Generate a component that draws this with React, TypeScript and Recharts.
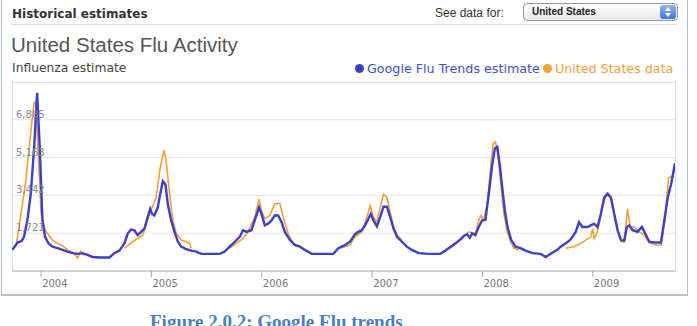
import { CartesianGrid, Line, LineChart, XAxis, YAxis } from 'recharts'

// weeks as decimal years
const googleWeeks = [
  2003.739, 2003.785, 2003.825, 2003.845, 2003.875, 2003.906, 2003.936, 2003.964, 2003.988, 2004.012,
  2004.036, 2004.066, 2004.103, 2004.148, 2004.194, 2004.239, 2004.285, 2004.33, 2004.375, 2004.421,
  2004.466, 2004.527, 2004.618, 2004.664, 2004.709, 2004.755, 2004.785, 2004.815, 2004.845, 2004.875,
  2004.906, 2004.936, 2004.966, 2004.988, 2005.006, 2005.027, 2005.057, 2005.079, 2005.103, 2005.127,
  2005.148, 2005.179, 2005.209, 2005.239, 2005.27, 2005.315, 2005.361, 2005.406, 2005.452, 2005.527,
  2005.618, 2005.664, 2005.709, 2005.755, 2005.8, 2005.83, 2005.861, 2005.906, 2005.936, 2005.975,
  2005.997, 2006.027, 2006.057, 2006.088, 2006.118, 2006.148, 2006.179, 2006.209, 2006.255, 2006.3,
  2006.345, 2006.391, 2006.452, 2006.557, 2006.648, 2006.694, 2006.755, 2006.8, 2006.845, 2006.875,
  2006.906, 2006.936, 2006.966, 2006.988, 2007.012, 2007.043, 2007.073, 2007.103, 2007.134, 2007.164,
  2007.194, 2007.225, 2007.27, 2007.315, 2007.361, 2007.421, 2007.512, 2007.618, 2007.664, 2007.725,
  2007.755, 2007.8, 2007.83, 2007.861, 2007.885, 2007.906, 2007.936, 2007.966, 2007.997, 2008.027,
  2008.057, 2008.088, 2008.112, 2008.134, 2008.157, 2008.179, 2008.203, 2008.23, 2008.261, 2008.3,
  2008.345, 2008.391, 2008.452, 2008.527, 2008.573, 2008.618, 2008.679, 2008.709, 2008.755, 2008.8,
  2008.845, 2008.875, 2008.906, 2008.952, 2008.982, 2009.012, 2009.043, 2009.073, 2009.103, 2009.134,
  2009.164, 2009.194, 2009.225, 2009.255, 2009.285, 2009.309, 2009.33, 2009.361, 2009.406, 2009.445,
  2009.482, 2009.512, 2009.557, 2009.618, 2009.648, 2009.679, 2009.709, 2009.745,
]
const googleEstimate = [
  961, 1287, 1377, 1556, 2302, 3495, 5580, 8113, 5580, 2302,
  1556, 1260, 1109, 1037, 961, 885, 813, 782, 813, 738,
  635, 617, 617, 813, 930, 1260, 1707, 1886, 1850, 1632,
  1780, 1931, 2450, 2825, 2602, 2527, 2897, 3495, 4090, 3940,
  3049, 2302, 1780, 1332, 1109, 992, 930, 885, 782, 782,
  782, 885, 1109, 1332, 1556, 1855, 1780, 1855, 2302, 2897,
  2602, 2079, 2153, 2302, 2527, 2527, 2228, 1780, 1408, 1185,
  1109, 961, 782, 782, 782, 1037, 1185, 1332, 1676, 1780,
  1855, 2079, 2377, 2602, 2302, 2034, 2452, 2928, 2928, 2452,
  1931, 1556, 1332, 1109, 961, 813, 782, 782, 930, 1147,
  1260, 1438, 1600, 1676, 1510, 1707, 1632, 2004, 2302, 2330,
  3495, 4836, 5580, 5655, 4836, 3793, 2748, 1931, 1408, 1109,
  1037, 930, 813, 782, 635, 782, 961, 1109, 1260, 1438,
  1780, 2228, 2004, 2004, 2079, 2153, 2004, 2602, 3346, 3524,
  3346, 2602, 1855, 1408, 1377, 2004, 2079, 1855, 1780, 2004,
  1632, 1332, 1300, 1300, 2302, 3346, 3942, 4908,
]

// CDC ILI data, null = no report (summer gap)
const cdcWeeks = [
  2003.77, 2003.8, 2003.861, 2003.906, 2003.936, 2003.95, 2003.975, 2004.0, 2004.036, 2004.103,
  2004.148, 2004.194, 2004.239, 2004.285, 2004.33, 2004.36, 2004.39, 2004.55,
  2004.755, 2004.83, 2004.921, 2004.982, 2005.042, 2005.079, 2005.112, 2005.134, 2005.164, 2005.194,
  2005.225, 2005.27, 2005.315, 2005.345, 2005.361, 2005.55,
  2005.709, 2005.77, 2005.83, 2005.875, 2005.936, 2005.975, 2005.997, 2006.027, 2006.073, 2006.118,
  2006.164, 2006.194, 2006.239, 2006.285, 2006.315, 2006.55,
  2006.709, 2006.8, 2006.845, 2006.906, 2006.952, 2006.982, 2007.012, 2007.043, 2007.073, 2007.103,
  2007.134, 2007.164, 2007.194, 2007.239, 2007.27, 2007.55,
  2007.709, 2007.8, 2007.875, 2007.936, 2007.966, 2007.988, 2008.012, 2008.043, 2008.073, 2008.097,
  2008.118, 2008.139, 2008.164, 2008.194, 2008.225, 2008.255, 2008.285, 2008.33, 2008.55,
  2008.755, 2008.83, 2008.891, 2008.936, 2008.982, 2008.997, 2009.012, 2009.036, 2009.057, 2009.088,
  2009.118, 2009.145, 2009.173, 2009.2, 2009.227, 2009.255, 2009.285, 2009.315, 2009.339, 2009.376,
  2009.421, 2009.467, 2009.512, 2009.573, 2009.618, 2009.655, 2009.685, 2009.718, 2009.745,
]
const cdcValues = [
  1109, 2003, 4090, 6325, 7666, 7700, 5200, 2600, 1855, 1408,
  1260, 1150, 960, 850, 603, 900, 700, null,
  1037, 1332, 1632, 2602, 3346, 4685, 5507, 4984, 3495, 2302,
  1707, 1408, 1332, 1260, 1037, null,
  1037, 1260, 1482, 1780, 2452, 3272, 2750, 2377, 2527, 3077,
  3077, 2452, 1707, 1260, 1109, null,
  1037, 1185, 1556, 1780, 2452, 2973, 2452, 2228, 2897, 3495,
  3346, 2676, 2004, 1556, 1408, null,
  1037, 1408, 1780, 1707, 2302, 2527, 2302, 3049, 4685, 5804,
  5878, 5283, 4090, 2602, 1780, 1332, 1037, 961, null,
  1037, 1109, 1260, 1408, 1556, 1931, 1482, 1707, 2153, 2897,
  3420, 3470, 3197, 2452, 1780, 1332, 1332, 2825, 2004, 2004,
  1780, 1632, 1287, 1185, 1185, 2302, 4238, 4312, 4610,
]

const yTicks = [1721, 3442, 5163, 6885]
const yearTicks = [2004, 2005, 2006, 2007, 2008, 2009]

const googleData = googleWeeks.map((t, i) => ({ t, v: googleEstimate[i] }))
const cdcData = cdcWeeks.map((t, i) => ({ t, v: cdcValues[i] }))

const BLUE = '#3b3fcc'
const ORANGE = '#f2a034'
const sans = '"Liberation Sans", Arial, sans-serif'
const wide = '"DejaVu Sans", Verdana, sans-serif'

function YTick({ y, payload }: any) {
  return (
    <text x={5} y={y - 2} fill="#8a8a8a" fontSize={10} fontFamily={wide}>
      {payload.value.toLocaleString('en-US')}
    </text>
  )
}

function XTick({ x, y, payload }: any) {
  return (
    <g>
      <line x1={x} x2={x} y1={y} y2={y + 6} stroke="#aaa" />
      <text x={x + 1} y={y + 16} fill="#777" fontSize={10} fontFamily={wide}>
        {payload.value}
      </text>
    </g>
  )
}

function Dot({ color }: { color: string }) {
  return (
    <span
      style={{
        display: 'inline-block',
        width: 9,
        height: 9,
        borderRadius: 5,
        background: color,
        marginRight: 3,
      }}
    />
  )
}

export default function App() {
  return (
    <div
      style={{
        position: 'absolute',
        left: 0,
        top: 0,
        width: 697,
        height: 326,
        overflow: 'hidden',
        background: '#fff',
        fontFamily: sans,
      }}
    >
      <div
        style={{
          position: 'absolute',
          left: 1,
          top: -2,
          width: 687,
          height: 298,
          border: '1px solid #a9c0d8',
          borderBottom: '2px solid #b9bfc6',
          boxSizing: 'border-box',
        }}
      />
      <div style={{ position: 'absolute', left: 12, top: 7, fontSize: 12, fontWeight: 'bold', color: '#333', fontFamily: wide }}>
        Historical estimates
      </div>
      <div style={{ position: 'absolute', left: 12, top: 24, width: 665, height: 1, background: '#ddd' }} />
      <div style={{ position: 'absolute', left: 435, top: 6, fontSize: 12, color: '#333' }}>See data for:</div>
      <div
        style={{
          position: 'absolute',
          left: 523,
          top: 3,
          width: 155,
          height: 18,
          boxSizing: 'border-box',
          border: '1px solid #999',
          borderRadius: 4,
          background: 'linear-gradient(#fff, #e8e8e8)',
          fontSize: 10,
          fontWeight: 'bold',
          color: '#222',
          padding: '2px 0 0 8px',
        }}
      >
        United States
        <div
          style={{
            position: 'absolute',
            right: 1,
            top: 1,
            width: 16,
            height: 14,
            borderRadius: 3,
            background: 'linear-gradient(#8fb4f0, #3f78d8)',
          }}
        >
          <div style={{ position: 'absolute', left: 5, top: 2, width: 0, height: 0, borderLeft: '3px solid transparent', borderRight: '3px solid transparent', borderBottom: '4px solid #fff' }} />
          <div style={{ position: 'absolute', left: 5, top: 8, width: 0, height: 0, borderLeft: '3px solid transparent', borderRight: '3px solid transparent', borderTop: '4px solid #fff' }} />
        </div>
      </div>
      <div style={{ position: 'absolute', left: 11, top: 33, fontSize: 20.5, color: '#555' }}>
        United States Flu Activity
      </div>
      <div style={{ position: 'absolute', left: 12, top: 61, fontSize: 12.3, color: '#444', fontFamily: wide }}>
        Influenza estimate
      </div>
      <div
        style={{
          position: 'absolute',
          left: 355,
          top: 61,
          fontSize: 12.7,
          fontFamily: wide,
          whiteSpace: 'nowrap',
          display: 'flex',
          alignItems: 'center',
        }}
      >
        <Dot color={BLUE} />
        <span style={{ color: '#3f4fd0' }}>Google Flu Trends estimate</span>
        <span style={{ width: 3 }} />
        <Dot color={ORANGE} />
        <span style={{ color: '#f0a23c' }}>United States data</span>
      </div>
      <div
        style={{
          position: 'absolute',
          left: 12,
          top: 82,
          width: 664,
          height: 190,
          boxSizing: 'border-box',
          border: '1px solid #ddd',
        }}
      />
      <div style={{ position: 'absolute', left: 11, top: 82 }}>
        <LineChart width={665} height={215} margin={{ top: 0, right: 1, bottom: 0, left: 0 }}>
          <CartesianGrid vertical={false} stroke="#e6e6e6" />
          <XAxis
            type="number"
            dataKey="t"
            domain={[2003.736, 2009.745]}
            ticks={yearTicks}
            allowDataOverflow
            height={26}
            tickSize={0}
            tickMargin={0}
            tick={<XTick />}
            axisLine={{ stroke: '#bbb' }}
          />
          <YAxis
            type="number"
            domain={[0, 8606]}
            ticks={yTicks}
            width={1}
            axisLine={false}
            tickLine={false}
            tick={<YTick />}
          />
          <Line
            data={cdcData}
            dataKey="v"
            stroke={ORANGE}
            strokeWidth={1.6}
            dot={false}
            isAnimationActive={false}
          />
          <Line
            data={googleData}
            dataKey="v"
            stroke={BLUE}
            strokeWidth={2.4}
            dot={false}
            isAnimationActive={false}
          />
        </LineChart>
      </div>
      <div
        style={{
          position: 'absolute',
          left: 150,
          top: 312,
          fontSize: 19,
          lineHeight: '19px',
          fontWeight: 'bold',
          color: '#4a7ebb',
          fontFamily: '"Liberation Serif", serif',
          whiteSpace: 'nowrap',
        }}
      >
        Figure 2.0.2: Google Flu trends
      </div>
    </div>
  )
}
